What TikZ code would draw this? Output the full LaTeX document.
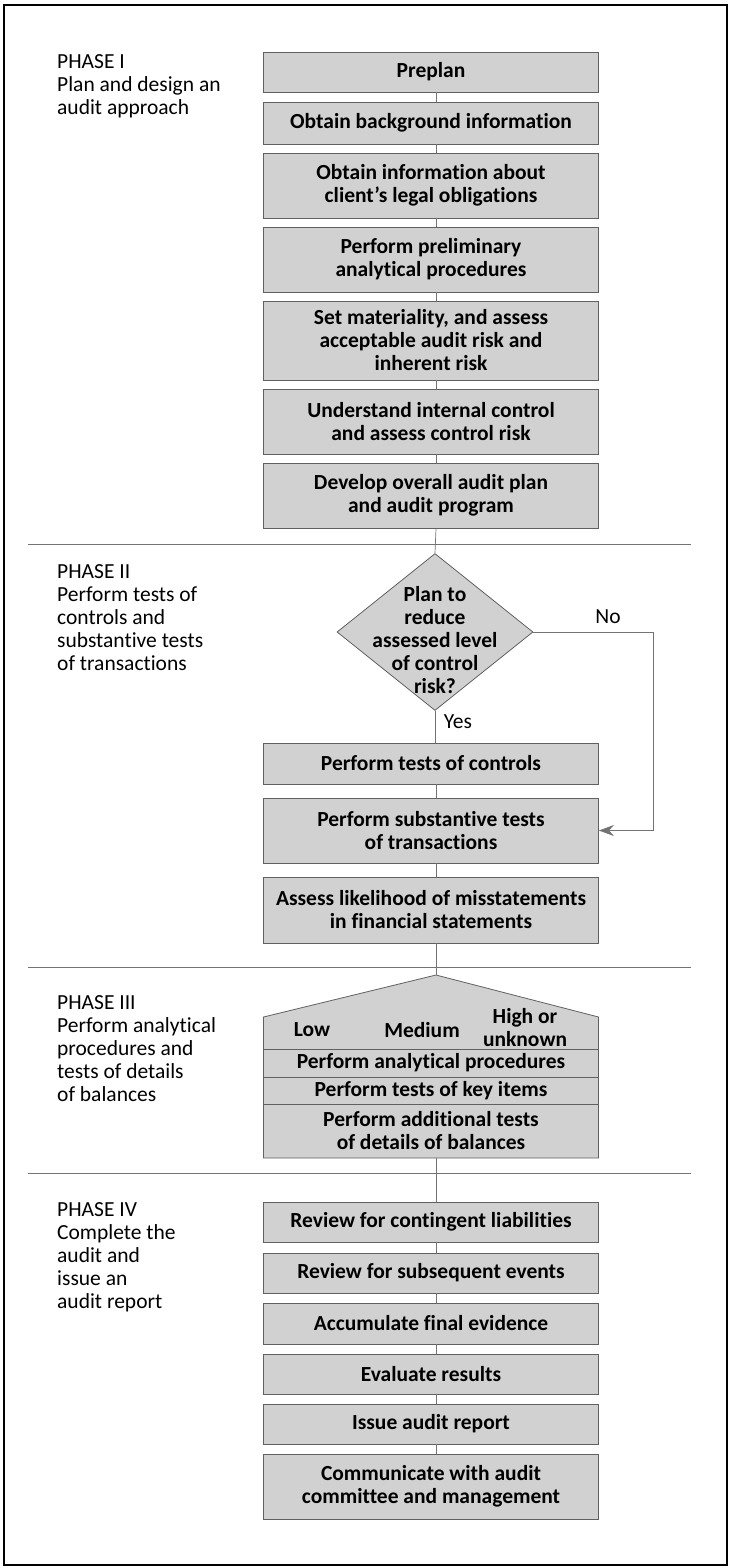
\documentclass[tikz,border=0pt]{standalone}
\usepackage{fontspec}
\setmainfont{Carlito}[Ligatures=NoCommon]
\usetikzlibrary{shapes.geometric,arrows.meta}
\definecolor{boxgray}{gray}{0.82}
\definecolor{edgegray}{gray}{0.38}
\definecolor{linegray}{gray}{0.45}
\newcommand{\flowfont}{\fontsize{21.5}{23}\selectfont}
\tikzset{
  stage/.style={draw=edgegray, fill=boxgray, line width=0.8pt, minimum width=335pt,
    inner sep=2pt, align=center, font=\flowfont\bfseries},
  link/.style={draw=linegray, line width=0.7pt},
  divider/.style={draw=linegray, line width=0.9pt},
  phase/.style={anchor=north west, inner sep=0pt, align=left, font=\flowfont},
  decision/.style={diamond, draw=edgegray, fill=boxgray, line width=0.8pt,
    minimum width=196pt, minimum height=157pt, inner sep=0pt},
}
\begin{document}
\begin{tikzpicture}[x=1pt,y=-1pt]
            \useasboundingbox (0,0) rectangle (730,1568);
            \draw[line width=2pt] (4,5) rectangle (727,1565);

            \coordinate (spine) at (436,0);

            \draw[divider] (28,544) -- (691,544);
            \draw[divider] (28,967) -- (691,967);
            \draw[divider] (28,1173) -- (691,1173);

            \node[phase] (ph1) at (57,54) {PHASE I\\Plan and design an\\audit approach};
            \node[phase] (ph2) at (57,564) {PHASE II\\Perform tests of\\controls and\\substantive tests\\of transactions};
            \node[phase] (ph3) at (57,995) {PHASE III\\Perform analytical\\procedures and\\tests of details\\of balances};
            \node[phase] (ph4) at (57,1202) {PHASE IV\\Complete the\\audit and\\issue an\\audit report};

            \node[stage, minimum height=40pt] (pre) at (431,72) {Preplan};
            \node[stage, minimum height=42pt] (bg) at (431,123) {Obtain background information};
            \node[stage, minimum height=65pt] (legal) at (431,185.5) {Obtain information about\\client’s legal obligations};
            \node[stage, minimum height=65pt] (prelim) at (431,259.5) {Perform preliminary\\analytical procedures};
            \node[stage, minimum height=79pt] (mat) at (431,340.5) {Set materiality, and assess\\acceptable audit risk and\\inherent risk};
            \node[stage, minimum height=65pt] (ictrl) at (431,421.5) {Understand internal control\\and assess control risk};
            \node[stage, minimum height=65pt] (plan) at (431,495.5) {Develop overall audit plan\\and audit program};

            \node[decision] (dec) at (435,632) {};
            \node[align=center, inner sep=0pt, yshift=-8pt, font=\flowfont\bfseries] (dectext) at (dec.center) {Plan to\\reduce\\assessed level\\of control\\risk?};
            \node[font=\flowfont] (yes) at (458,722) {Yes};
            \node[font=\flowfont] (no) at (608,617) {No};

            \node[stage, minimum height=41pt] (toc) at (431,763.5) {Perform tests of controls};
            \node[stage, minimum height=65pt] (subst) at (431,830.5) {Perform substantive tests\\of transactions};
            \node[stage, minimum height=66pt] (assess) at (431,910) {Assess likelihood of misstatements\\in financial statements};

            \coordinate (ptop) at (436,975);
            \coordinate (pr) at (598.5,1017);
            \coordinate (pbr) at (598.5,1158);
            \coordinate (pbl) at (263.5,1158);
            \coordinate (pl) at (263.5,1017);
            \draw[draw=edgegray, fill=boxgray, line width=0.8pt] (ptop) -- (pr) -- (pbr) -- (pbl) -- (pl) -- cycle;
            \draw[draw=edgegray, line width=0.8pt] (263.5,1049) -- (598.5,1049);
            \draw[draw=edgegray, line width=0.8pt] (263.5,1077) -- (598.5,1077);
            \draw[draw=edgegray, line width=0.8pt] (263.5,1104) -- (598.5,1104);
            \node[font=\flowfont\bfseries] (low) at (312,1030) {Low};
            \node[font=\flowfont\bfseries] (med) at (422,1030) {Medium};
            \node[font=\flowfont\bfseries, align=center, inner sep=0pt] (high) at (525,1028) {High or\\unknown};
            \node[font=\flowfont\bfseries] (anal) at (431,1063) {Perform analytical procedures};
            \node[font=\flowfont\bfseries] (key) at (431,1091) {Perform tests of key items};
            \node[font=\flowfont\bfseries, align=center, inner sep=0pt] (addl) at (431,1131) {Perform additional tests\\of details of balances};

            \node[stage, minimum height=40pt] (contin) at (431,1222) {Review for contingent liabilities};
            \node[stage, minimum height=40pt] (subseq) at (431,1273) {Review for subsequent events};
            \node[stage, minimum height=41pt] (accum) at (431,1323.5) {Accumulate final evidence};
            \node[stage, minimum height=40pt] (evalr) at (431,1374) {Evaluate results};
            \node[stage, minimum height=40pt] (issue) at (431,1424) {Issue audit report};
            \node[stage, minimum height=65pt] (comm) at (431,1486.5) {Communicate with audit\\committee and management};

            \draw[link] (pre.south -| spine) -- (bg.north -| spine);
            \draw[link] (bg.south -| spine) -- (legal.north -| spine);
            \draw[link] (legal.south -| spine) -- (prelim.north -| spine);
            \draw[link] (prelim.south -| spine) -- (mat.north -| spine);
            \draw[link] (mat.south -| spine) -- (ictrl.north -| spine);
            \draw[link] (ictrl.south -| spine) -- (plan.north -| spine);
            \draw[link] (plan.south -| spine) -- (dec.north);
            \draw[link] (dec.south) -- (toc.north -| dec.south);
            \draw[link] (toc.south -| spine) -- (subst.north -| spine);
            \draw[link] (subst.south -| spine) -- (assess.north -| spine);
            \draw[link] (assess.south -| spine) -- (ptop);
            \draw[link] (pbl -| spine) -- (contin.north -| spine);
            \draw[link] (contin.south -| spine) -- (subseq.north -| spine);
            \draw[link] (subseq.south -| spine) -- (accum.north -| spine);
            \draw[link] (accum.south -| spine) -- (evalr.north -| spine);
            \draw[link] (evalr.south -| spine) -- (issue.north -| spine);
            \draw[link] (issue.south -| spine) -- (comm.north -| spine);

            \coordinate (nobend) at (653,632);
            \draw[link, -{Stealth[length=15pt, width=11pt]}] (dec.east) -- (nobend) |- (subst.east);
        \end{tikzpicture}
\end{document}
